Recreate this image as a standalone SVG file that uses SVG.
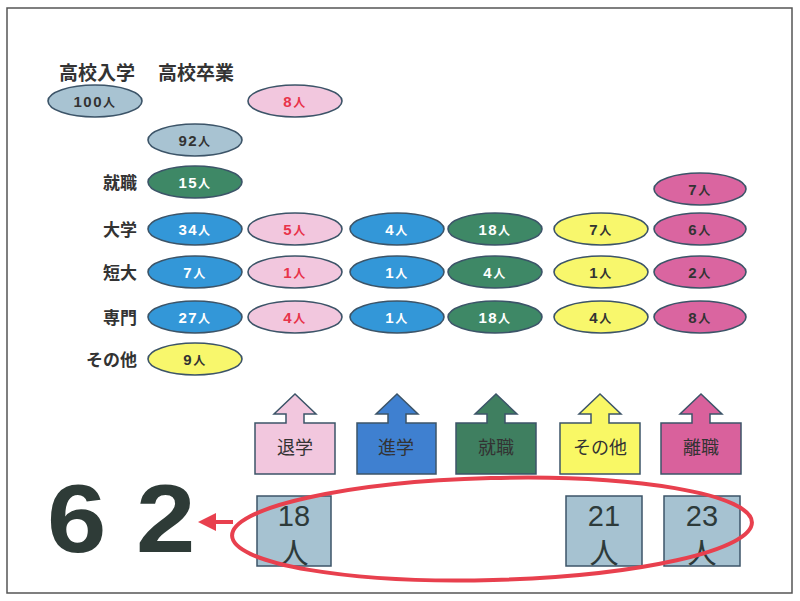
<svg xmlns="http://www.w3.org/2000/svg" width="800" height="601" viewBox="0 0 800 601">
<style>
text{font-family:"Liberation Sans","Noto Sans CJK JP",sans-serif;}
.hdr{font-family:"Noto Sans CJK JP",sans-serif;font-size:19px;font-weight:bold;fill:#333;}
.lbl{font-family:"Noto Sans CJK JP",sans-serif;font-size:17px;font-weight:bold;fill:#333;text-anchor:end;}
.el{stroke:#3c5468;stroke-width:1.6;}
.num{font-size:15px;font-weight:bold;text-anchor:middle;letter-spacing:1.5px;}
.nin{font-family:"Noto Sans CJK JP",sans-serif;font-size:12px;}
.gray{fill:#a8c3d2;} .pink{fill:#f2c7de;} .blue{fill:#3397d8;} .green{fill:#3e8866;} .yellow{fill:#f8f76c;} .mag{fill:#da65a0;}
.tw{fill:#fff;} .tr{fill:#e8334a;} .td{fill:#333;}
.box{stroke:#3c5468;stroke-width:1.5;}
.btxt{font-family:"Noto Sans CJK JP",sans-serif;font-size:18px;fill:#333;text-anchor:middle;}
.res{fill:#a6c2d1;stroke:#3c5468;stroke-width:1.5;}
.rtxt{font-size:29px;fill:#2d3a3a;text-anchor:middle;}
</style>
<rect x="7" y="8" width="785" height="585" fill="#fff" stroke="#555" stroke-width="1.5"/>

<g id="headers">
<text class="hdr" x="97" y="80" text-anchor="middle">高校入学</text>
<text class="hdr" x="196" y="80" text-anchor="middle">高校卒業</text>
</g>
<g id="rowlabels">
<text class="lbl" x="137" y="189">就職</text>
<text class="lbl" x="137" y="236">大学</text>
<text class="lbl" x="137" y="279">短大</text>
<text class="lbl" x="137" y="324">専門</text>
<text class="lbl" x="137" y="366">その他</text>
</g>

<g id="n-entry"><ellipse class="el gray" cx="95" cy="101" rx="47" ry="16"/><text class="num td" x="95" y="107">100<tspan class="nin">人</tspan></text></g>
<g id="n-drop8"><ellipse class="el pink" cx="295" cy="101" rx="47" ry="16"/><text class="num tr" x="295" y="107">8<tspan class="nin">人</tspan></text></g>
<g id="n-grad"><ellipse class="el gray" cx="195" cy="140" rx="47" ry="16"/><text class="num td" x="195" y="146">92<tspan class="nin">人</tspan></text></g>
<g id="n-job15"><ellipse class="el green" cx="195" cy="182" rx="47" ry="16"/><text class="num tw" x="195" y="188">15<tspan class="nin">人</tspan></text></g>
<g id="n-rej7"><ellipse class="el mag" cx="700" cy="189" rx="46" ry="16"/><text class="num td" x="700" y="195">7<tspan class="nin">人</tspan></text></g>

<g id="n-univ34"><ellipse class="el blue" cx="195" cy="229" rx="47" ry="16"/><text class="num tw" x="195" y="235">34<tspan class="nin">人</tspan></text></g>
<g id="n-univ-drop"><ellipse class="el pink" cx="295" cy="229" rx="47" ry="16"/><text class="num tr" x="295" y="235">5<tspan class="nin">人</tspan></text></g>
<g id="n-univ-adv"><ellipse class="el blue" cx="397" cy="229" rx="47" ry="16"/><text class="num tw" x="397" y="235">4<tspan class="nin">人</tspan></text></g>
<g id="n-univ-job"><ellipse class="el green" cx="495" cy="229" rx="47" ry="16"/><text class="num tw" x="495" y="235">18<tspan class="nin">人</tspan></text></g>
<g id="n-univ-oth"><ellipse class="el yellow" cx="601" cy="229" rx="47" ry="16"/><text class="num td" x="601" y="235">7<tspan class="nin">人</tspan></text></g>
<g id="n-univ-quit"><ellipse class="el mag" cx="700" cy="229" rx="46" ry="16"/><text class="num td" x="700" y="235">6<tspan class="nin">人</tspan></text></g>

<g id="n-jc7"><ellipse class="el blue" cx="195" cy="272" rx="47" ry="16"/><text class="num tw" x="195" y="278">7<tspan class="nin">人</tspan></text></g>
<g id="n-jc-drop"><ellipse class="el pink" cx="295" cy="272" rx="47" ry="16"/><text class="num tr" x="295" y="278">1<tspan class="nin">人</tspan></text></g>
<g id="n-jc-adv"><ellipse class="el blue" cx="397" cy="272" rx="47" ry="16"/><text class="num tw" x="397" y="278">1<tspan class="nin">人</tspan></text></g>
<g id="n-jc-job"><ellipse class="el green" cx="495" cy="272" rx="47" ry="16"/><text class="num tw" x="495" y="278">4<tspan class="nin">人</tspan></text></g>
<g id="n-jc-oth"><ellipse class="el yellow" cx="601" cy="272" rx="47" ry="16"/><text class="num td" x="601" y="278">1<tspan class="nin">人</tspan></text></g>
<g id="n-jc-quit"><ellipse class="el mag" cx="700" cy="272" rx="46" ry="16"/><text class="num td" x="700" y="278">2<tspan class="nin">人</tspan></text></g>

<g id="n-voc27"><ellipse class="el blue" cx="195" cy="317" rx="47" ry="16"/><text class="num tw" x="195" y="323">27<tspan class="nin">人</tspan></text></g>
<g id="n-voc-drop"><ellipse class="el pink" cx="295" cy="317" rx="47" ry="16"/><text class="num tr" x="295" y="323">4<tspan class="nin">人</tspan></text></g>
<g id="n-voc-adv"><ellipse class="el blue" cx="397" cy="317" rx="47" ry="16"/><text class="num tw" x="397" y="323">1<tspan class="nin">人</tspan></text></g>
<g id="n-voc-job"><ellipse class="el green" cx="495" cy="317" rx="47" ry="16"/><text class="num tw" x="495" y="323">18<tspan class="nin">人</tspan></text></g>
<g id="n-voc-oth"><ellipse class="el yellow" cx="601" cy="317" rx="47" ry="16"/><text class="num td" x="601" y="323">4<tspan class="nin">人</tspan></text></g>
<g id="n-voc-quit"><ellipse class="el mag" cx="700" cy="317" rx="46" ry="16"/><text class="num td" x="700" y="323">8<tspan class="nin">人</tspan></text></g>

<g id="n-other9"><ellipse class="el yellow" cx="195" cy="359" rx="47" ry="16"/><text class="num td" x="195" y="365">9<tspan class="nin">人</tspan></text></g>

<g id="b-drop"><path class="box pink" d="M255,474 V423 H286 V414 H274 L295,394 L316,414 H304 V423 H335 V474 Z"/><text class="btxt" x="295" y="454">退学</text></g>
<g id="b-adv"><path class="box" fill="#3f80d0" d="M357,474 V423 H388 V414 H376 L397,394 L418,414 H406 V423 H436 V474 Z"/><text class="btxt" x="396" y="454">進学</text></g>
<g id="b-job"><path class="box" fill="#3f7f60" d="M456,474 V423 H487 V414 H475 L496,394 L517,414 H505 V423 H536 V474 Z"/><text class="btxt" x="496" y="454">就職</text></g>
<g id="b-oth"><path class="box" fill="#f9f865" d="M560,474 V423 H591 V414 H579 L600,394 L621,414 H609 V423 H640 V474 Z"/><text class="btxt" x="600" y="454">その他</text></g>
<g id="b-quit"><path class="box" fill="#d9619c" d="M661,474 V423 H692 V414 H680 L701,394 L722,414 H710 V423 H741 V474 Z"/><text class="btxt" x="701" y="454">離職</text></g>

<g id="r-drop"><rect class="res" x="257" y="496" width="74" height="70"/><text class="rtxt" x="294" y="526">18</text><text class="rtxt" x="294" y="564" font-family="Noto Sans CJK JP,sans-serif">人</text></g>
<g id="r-oth"><rect class="res" x="566" y="496" width="76" height="70"/><text class="rtxt" x="604" y="526">21</text><text class="rtxt" x="604" y="564" font-family="Noto Sans CJK JP,sans-serif">人</text></g>
<g id="r-quit"><rect class="res" x="664" y="496" width="76" height="70"/><text class="rtxt" x="702" y="526">23</text><text class="rtxt" x="702" y="564" font-family="Noto Sans CJK JP,sans-serif">人</text></g>

<g id="total"><text transform="translate(47,552) scale(1.1,1)" x="0" y="0" font-size="97" font-weight="bold" fill="#2e3b37">6 2</text></g>

<g id="connectors">
<ellipse cx="492" cy="529" rx="260" ry="51" fill="none" stroke="#e8404e" stroke-width="4" transform="rotate(-1.5 492 529)"/>
<line x1="233" y1="522" x2="213" y2="522" stroke="#e8404e" stroke-width="4"/>
<polygon points="198,522 216,513 216,531" fill="#e8404e"/>
</g>
</svg>
